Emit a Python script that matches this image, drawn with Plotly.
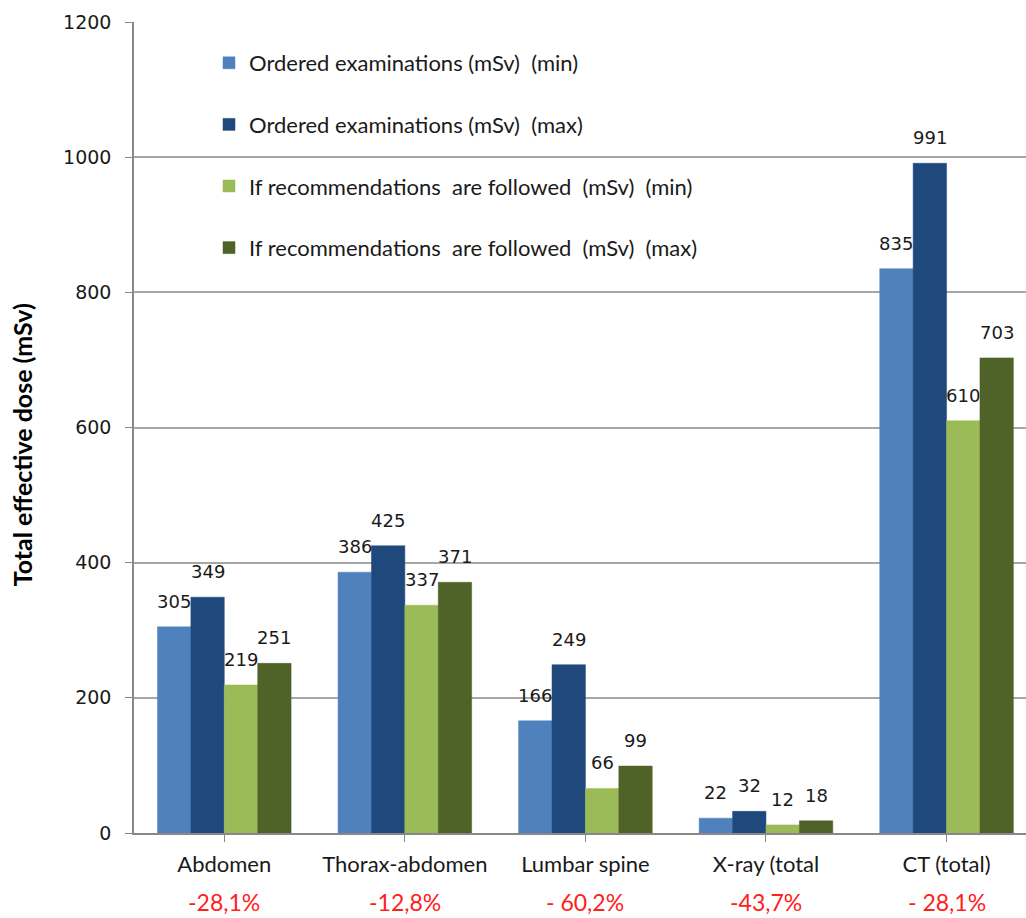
import plotly.graph_objects as go

# Examination categories and the percentage change in total dose
categories = ["Abdomen", "Thorax-abdomen", "Lumbar spine", "X-ray (total", "CT (total)"]
reductions = ["-28,1%", "-12,8%", "- 60,2%", "-43,7%", "- 28,1%"]

# Total effective dose (mSv) per series
ordered_min = [305, 386, 166, 22, 835]
ordered_max = [349, 425, 249, 32, 991]
followed_min = [219, 337, 66, 12, 610]
followed_max = [251, 371, 99, 18, 703]

series_names = [
    "Ordered examinations (mSv)\u00a0 (min)",
    "Ordered examinations (mSv)\u00a0 (max)",
    "If recommendations\u00a0 are followed\u00a0 (mSv)\u00a0 (min)",
    "If recommendations\u00a0 are followed\u00a0 (mSv)\u00a0 (max)",
]
series_values = [ordered_min, ordered_max, followed_min, followed_max]
series_colors = ["#4F81BD", "#1F497D", "#9BBB59", "#4F6228"]

W, H = 1026, 918
M_L, M_R, M_T, M_B = 134, 0, 22, 85
X_RANGE = [-0.5, 4.44]
BARGAP = 0.26

plot_w = W - M_L - M_R
plot_h = H - M_T - M_B
cat_px = plot_w / (X_RANGE[1] - X_RANGE[0])
bar_px = cat_px * (1 - BARGAP) / len(series_values)

fig = go.Figure()
for i, (name, vals, col) in enumerate(zip(series_names, series_values, series_colors)):
    fig.add_trace(go.Bar(
        x=list(range(len(categories))),
        y=vals,
        name=name,
        legendgroup=f"g{i}",
        marker=dict(color=col, line=dict(color=col, width=0.5)),
    ))
    # value labels above each bar
    for j, v in enumerate(vals):
        fig.add_annotation(
            x=j, y=v, xref="x", yref="y",
            text=str(v), showarrow=False,
            xanchor="center", yanchor="bottom",
            xshift=(i - 1.5) * bar_px, yshift=13,
            font=dict(family="DejaVu Sans", size=18, color="#1a1a1a"),
        )

# percentage change under each category
for j, r in enumerate(reductions):
    fig.add_annotation(
        x=j, y=-0.085, xref="x", yref="paper",
        text=r, showarrow=False, xanchor="center", yanchor="middle",
        font=dict(family="Lato", size=23, color="#FF2020"),
    )

# y-axis title
fig.add_annotation(
    x=(22 - M_L) / plot_w, y=0.478, xref="paper", yref="paper",
    text="<b>Total effective dose (mSv)</b>", showarrow=False, textangle=-90,
    xanchor="center", yanchor="middle",
    font=dict(family="Lato", size=25, color="#000000"),
)

fig.update_layout(
    width=W, height=H,
    margin=dict(l=M_L, r=M_R, t=M_T, b=M_B),
    paper_bgcolor="white", plot_bgcolor="white",
    barmode="group", bargap=BARGAP, bargroupgap=0,
    showlegend=True,
    legend=dict(
        x=(209 - M_L) / plot_w, y=(plot_h + M_T - 42) / plot_h,
        xanchor="left", yanchor="top",
        bgcolor="rgba(0,0,0,0)",
        tracegroupgap=30,
        font=dict(family="Lato", size=22, color="#1a1a1a"),
        itemwidth=30,
    ),
    xaxis=dict(
        range=X_RANGE,
        tickmode="array", tickvals=list(range(len(categories))), ticktext=categories,
        ticks="outside", tickson="boundaries", ticklen=7, tickcolor="#888888",
        ticklabelstandoff=4,
        showline=True, linecolor="#888888", linewidth=1.5,
        showgrid=False, zeroline=False,
        tickfont=dict(family="Lato", size=22, color="#1a1a1a"),
    ),
    yaxis=dict(
        range=[0, 1200], dtick=200,
        ticks="outside", ticklen=7, tickcolor="#888888",
        ticklabelstandoff=10,
        showline=True, linecolor="#888888", linewidth=1.5,
        showgrid=True, gridcolor="#A6A6A6", gridwidth=1.5,
        zeroline=False,
        tickfont=dict(family="DejaVu Sans", size=19, color="#1a1a1a"),
    ),
)

fig.write_html("out.html")
